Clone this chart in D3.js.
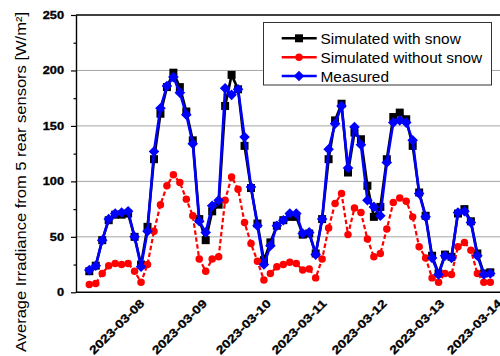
<!DOCTYPE html>
<html>
<head>
<meta charset="utf-8">
<script src="https://cdn.jsdelivr.net/npm/d3@7"></script>
<style>
  html, body { margin: 0; padding: 0; background: #fff; }
  svg { display: block; font-family: "Liberation Sans", Arial, sans-serif; }
</style>
</head>
<body>
<svg id="chart" width="500" height="356"></svg>
<script>
// Rear-side irradiance, one value per sample (daytime samples, 2023-03-07 .. 2023-03-13)
const withSnow = [19,24,47,65,70,70,71,50,25,59, 120,161,185,198,185,163,137,66,47,73,
  79,168,196,183,132,94,62,29,45,60, 65,68,68,52,53,35,66,120,155,170,
  108,144,138,96,68,77,120,158,162,156, 132,90,69,33,17,34,32,71,75,64,
  35,17,18];
const withoutSnow = [7,8,17,24,26,25,26,19,9,25, 55,79,96,106,99,84,69,30,19,30,
  32,83,104,93,63,44,28,11,17,23, 25,27,26,20,21,13,30,58,80,89,
  52,76,72,48,32,35,57,81,85,82, 68,41,31,13,9,17,16,41,45,38,
  17,9,9];
const measured = [20,24,47,66,71,72,73,50,23,55, 127,166,186,194,180,160,134,64,54,78,
  83,184,178,183,140,95,60,25,42,60, 65,71,71,53,54,34,66,129,152,168,
  112,149,133,83,77,69,117,153,155,153, 137,89,68,31,16,33,31,72,73,63,
  33,16,17];

// Day boundaries on the sample axis and their labels
const dayLabels = ["2023-03-08","2023-03-09","2023-03-10","2023-03-11","2023-03-12","2023-03-13","2023-03-14"];
const dayAt = [7.7, 17.4, 27.3, 35.9, 45.2, 54.1, 63.0];

const yTicks = [0, 50, 100, 150, 200, 250];
const yMinor = [25, 75, 125, 175, 225];
const gridValues = [50, 100, 150, 200];

const seriesNames = ["Simulated with snow", "Simulated without snow", "Measured"];

const svg = d3.select("#chart");
const W = 500;
const plotLeft = 76, plotTop = 15, plotBottom = 292.3;

const x = d3.scaleLinear().domain([0, withSnow.length - 1]).range([89.3, 490.3]);
const y = d3.scaleLinear().domain([0, 250]).range([plotBottom, plotTop]);

// grid lines
svg.append("g").selectAll("line").data(gridValues).join("line")
  .attr("x1", plotLeft).attr("x2", W + 10)
  .attr("y1", d => y(d)).attr("y2", d => y(d))
  .attr("stroke", "#a6a6a6").attr("stroke-width", 1);

// top frame
svg.append("line")
  .attr("x1", plotLeft).attr("x2", W + 10)
  .attr("y1", y(250)).attr("y2", y(250))
  .attr("stroke", "#000").attr("stroke-width", 1.4);

// y axis, minor ticks
svg.append("g").attr("transform", `translate(${plotLeft},0)`)
  .call(d3.axisLeft(y).tickValues(yMinor).tickSize(2.5).tickFormat(""))
  .call(g => g.select(".domain").remove())
  .selectAll("line").attr("stroke", "#000").attr("stroke-width", 1.2);

// y axis, major ticks
const yAxis = svg.append("g").attr("transform", `translate(${plotLeft},0)`)
  .call(d3.axisLeft(y).tickValues(yTicks).tickSize(5).tickPadding(7).tickSizeOuter(0));
yAxis.select(".domain").attr("stroke", "#000").attr("stroke-width", 1.4);
yAxis.selectAll(".tick line").attr("stroke", "#000").attr("stroke-width", 1.2);
yAxis.selectAll(".tick text")
  .attr("font-family", "'Liberation Sans', Arial, sans-serif")
  .attr("font-weight", "bold").attr("font-size", 10).attr("fill", "#000")
  .attr("stroke", "#000").attr("stroke-width", 0.3)
  .attr("textLength", d => String(d).length * 7.1)
  .attr("lengthAdjust", "spacingAndGlyphs");

// x axis line
svg.append("line")
  .attr("x1", plotLeft).attr("x2", W + 10)
  .attr("y1", plotBottom).attr("y2", plotBottom)
  .attr("stroke", "#000").attr("stroke-width", 1.4);

// date labels
svg.append("g").selectAll("text").data(dayLabels).join("text")
  .attr("transform", (d, i) => `translate(${x(dayAt[i]) + 3},${plotBottom + 9}) rotate(-45)`)
  .attr("text-anchor", "end")
  .attr("dy", "0.35em")
  .attr("font-weight", "bold").attr("font-size", 11.5).attr("fill", "#000")
  .attr("stroke", "#000").attr("stroke-width", 0.3)
  .attr("textLength", 72)
  .attr("lengthAdjust", "spacingAndGlyphs")
  .text(d => d);

// y axis title
svg.append("text")
  .attr("transform", `translate(26,182) rotate(-90)`)
  .attr("text-anchor", "middle")
  .attr("font-size", 14.5).attr("fill", "#000")
  .attr("textLength", 340).attr("lengthAdjust", "spacingAndGlyphs")
  .text("Average Irradiance from 5 rear sensors [W/m²]");

// series
const line = d3.line().x((d, i) => x(i)).y(d => y(d));
const plot = svg.append("g");

function drawSeries(data, color, width, dash, marker) {
  plot.append("path").datum(data)
    .attr("d", line).attr("fill", "none")
    .attr("stroke", color).attr("stroke-width", width)
    .attr("stroke-linejoin", "round")
    .attr("stroke-dasharray", dash);
  plot.append("g").selectAll("path").data(data).join("path")
    .attr("d", marker.shape)
    .attr("transform", (d, i) => `translate(${x(i)},${y(d)}) rotate(${marker.rot})`)
    .attr("fill", color);
}

const squareMark = { shape: d3.symbol(d3.symbolSquare, 64)(), rot: 0 };
const circleMark = { shape: d3.symbol(d3.symbolCircle, 44)(), rot: 0 };
const diamondMark = { shape: d3.symbol(d3.symbolSquare, 56)(), rot: 45 };

drawSeries(withSnow, "#000000", 2.6, null, squareMark);
drawSeries(withoutSnow, "#ff0000", 2.2, "4.5,2.5", circleMark);
drawSeries(measured, "#0000ff", 2.6, null, diamondMark);

// legend
const legend = svg.append("g");
legend.append("rect")
  .attr("x", 263.5).attr("y", 22.5).attr("width", 228).attr("height", 62.5)
  .attr("fill", "#fff").attr("stroke", "#333").attr("stroke-width", 1);
const legendColors = ["#000000", "#ff0000", "#0000ff"];
const legendMarks = [squareMark, circleMark, diamondMark];
const rowY = [38.3, 57.3, 76];
seriesNames.forEach((name, i) => {
  const g = legend.append("g").attr("transform", `translate(0,${rowY[i]})`);
  g.append("line").attr("x1", 281.7).attr("x2", 316.7)
    .attr("stroke", legendColors[i]).attr("stroke-width", 2.6);
  g.append("path").attr("d", legendMarks[i].shape)
    .attr("transform", `translate(299,0) rotate(${legendMarks[i].rot})`)
    .attr("fill", legendColors[i]);
  g.append("text").attr("x", 320.5).attr("y", 5.5)
    .attr("font-size", 15.4).attr("fill", "#000").text(name);
});
</script>
</body>
</html>
